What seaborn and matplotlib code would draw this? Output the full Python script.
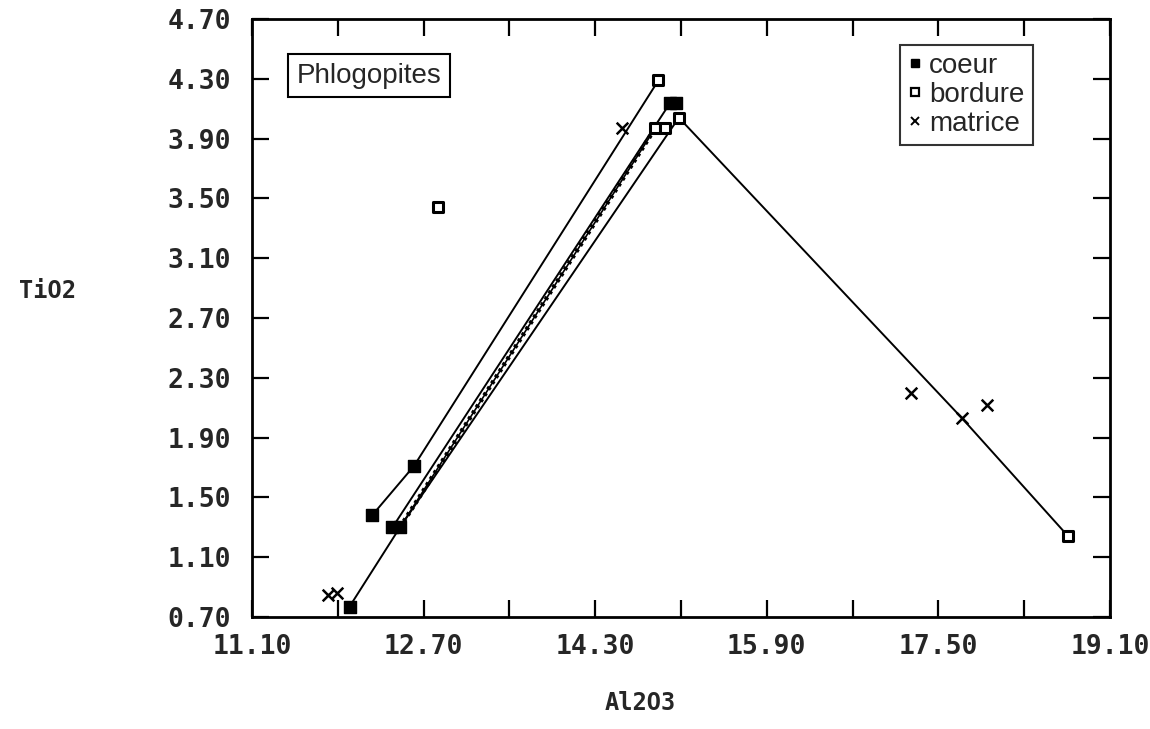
import numpy as np
import pandas as pd
import matplotlib
matplotlib.use("Agg")
import matplotlib.pyplot as plt
from matplotlib.lines import Line2D
import seaborn as sns

# --- data (Al2O3 vs TiO2, phlogopites) ---
coeur_x = [12.22, 12.61, 12.41, 12.48, 12.01, 15.00, 15.05]
coeur_y = [1.38, 1.71, 1.30, 1.30, 0.77, 4.14, 4.14]

bordure_x = [14.89, 15.08, 14.86, 14.95, 12.83, 18.71]
bordure_y = [4.29, 4.04, 3.97, 3.97, 3.44, 1.24]

matrice_x = [14.55, 17.24, 17.72, 17.95, 11.81, 11.89]
matrice_y = [3.97, 2.20, 2.03, 2.12, 0.85, 0.86]

# zoning trends (coeur -> bordure)
line_a_x = [12.22, 12.61, 14.89]
line_a_y = [1.38, 1.71, 4.29]
line_b_x = [12.41, 15.00]
line_b_y = [1.30, 4.14]
line_c_x = [12.48, 14.86]
line_c_y = [1.30, 3.97]
line_d_x = [12.01, 12.48, 15.08, 17.72, 18.71]
line_d_y = [0.77, 1.30, 4.04, 2.03, 1.24]

x_major = [11.10, 12.70, 14.30, 15.90, 17.50, 19.10]
x_minor = [11.90, 13.50, 15.10, 16.70, 18.30]
y_ticks = [0.70, 1.10, 1.50, 1.90, 2.30, 2.70, 3.10, 3.50, 3.90, 4.30, 4.70]

sns.set_style("white")
plt.rcParams['font.family'] = ['Liberation Sans', 'DejaVu Sans']

fig = plt.figure(figsize=(11.5, 7.29), dpi=100)
ax = fig.add_axes([252 / 1150, 1 - 617 / 729, 858 / 1150, 598 / 729])

for lx, ly in [(line_a_x, line_a_y), (line_b_x, line_b_y), (line_d_x, line_d_y)]:
    sns.lineplot(x=lx, y=ly, sort=False, estimator=None, color="black",
                 linewidth=1.4, ax=ax)
# the "beaded" trend line
sns.lineplot(x=line_c_x, y=line_c_y, sort=False, estimator=None, color="black",
             linewidth=1.2, ax=ax)
sns.lineplot(x=line_c_x, y=line_c_y, sort=False, estimator=None, color="black",
             linewidth=3.2, linestyle=(0, (0.7, 0.9)), ax=ax)

sns.scatterplot(x=coeur_x, y=coeur_y, marker="s", color="black", s=80,
                edgecolor="black", linewidth=1, zorder=5, ax=ax)
sns.scatterplot(x=bordure_x, y=bordure_y, marker="s", facecolor="white", s=60,
                edgecolor="black", linewidth=2.2, zorder=5, ax=ax)
sns.scatterplot(x=matrice_x, y=matrice_y, marker="x", color="black", s=70,
                linewidth=1.8, zorder=5, ax=ax)

ax.set_xlim(11.10, 19.10)
ax.set_ylim(0.70, 4.70)
ax.set_xticks(x_major)
ax.set_xticks(x_minor, minor=True)
ax.set_yticks(y_ticks)
ax.set_xticklabels(["%.2f" % v for v in x_major])
ax.set_yticklabels(["%.2f" % v for v in y_ticks])
for lab in ax.get_xticklabels() + ax.get_yticklabels():
    lab.set_fontfamily("DejaVu Sans Mono")
    lab.set_fontweight("bold")
    lab.set_fontsize(19)
ax.tick_params(which="both", direction="in", length=12, width=1.6,
               top=True, right=True, bottom=True, left=True, color="black")
ax.tick_params(axis="x", which="major", pad=12)
ax.tick_params(axis="y", which="major", pad=15)
for sp in ax.spines.values():
    sp.set_color("black")
    sp.set_linewidth(2)
ax.set_xlabel("")
ax.set_ylabel("")

fig.text(47 / 1150, 1 - 291 / 729, "TiO2", ha="center", va="center",
         fontsize=17, fontweight="bold", fontfamily="DejaVu Sans Mono")
fig.text(640 / 1150, 1 - 703 / 729, "Al2O3", ha="center", va="center",
         fontsize=17, fontweight="bold", fontfamily="DejaVu Sans Mono")

ax.text(0.052, 0.905, "Phlogopites", transform=ax.transAxes, fontsize=20,
        ha="left", va="center",
        bbox=dict(boxstyle="square,pad=0.3", facecolor="white",
                  edgecolor="black", linewidth=1.5))

handles = [
    Line2D([], [], marker="s", linestyle="", color="black", markersize=6),
    Line2D([], [], marker="s", linestyle="", markerfacecolor="white",
           markeredgecolor="black", markeredgewidth=1.6, markersize=6),
    Line2D([], [], marker="x", linestyle="", color="black", markersize=6,
           markeredgewidth=1.4),
]
leg = ax.legend(handles, ["coeur", "bordure", "matrice"], loc="upper right",
                bbox_to_anchor=(0.91, 0.957), fontsize=20, frameon=True,
                fancybox=False, edgecolor="black", handlelength=0.5,
                handletextpad=0.25, labelspacing=0.1, borderpad=0.3,
                borderaxespad=0)
leg.get_frame().set_linewidth(1.5)

fig.savefig("out.png", dpi=100)
